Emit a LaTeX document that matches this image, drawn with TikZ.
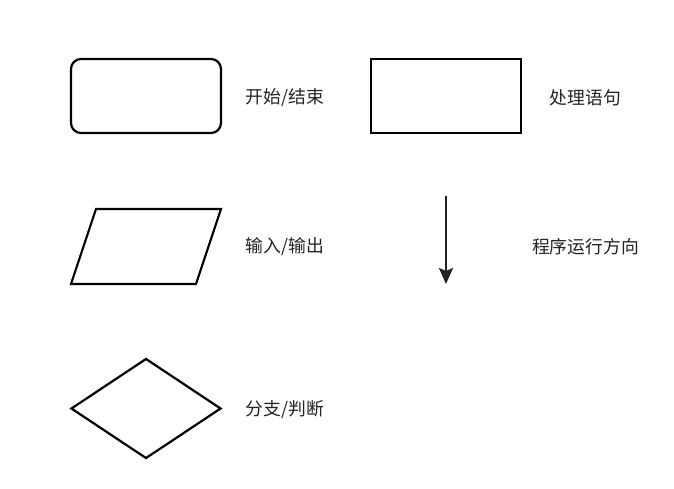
\documentclass[tikz,border=0pt]{standalone}
\usepackage{fontspec}
\newfontfamily\cjk{Noto Sans CJK SC}
\definecolor{fcblack}{RGB}{0,0,0}
\definecolor{fctext}{RGB}{34,34,34}
\usetikzlibrary{arrows.meta,positioning,shapes.geometric}

\begin{document}
\begin{tikzpicture}[
  x=1pt,y=-1pt,
  every node/.style={font=\cjk\fontsize{17.8}{21}\selectfont,text=fctext},
  fcshape/.style={draw=fcblack,line width=2.2pt,inner sep=0pt},
  fclabel/.style={inner sep=0pt},
  flowarr/.style={-{Stealth[length=16pt,width=14pt,inset=3pt]},line width=2.2pt,fctext},
]
  \useasboundingbox (0,0) rectangle (674,488);

  % Flow chart symbols
  \node[fcshape,rounded corners=10pt,minimum width=150pt,minimum height=74pt] (term) at (146,96) {};
  \node[fcshape,minimum width=150pt,minimum height=74pt] (proc) at (446,96) {};
  \draw[fcshape,line join=miter] (96,209) -- (221,209) -- (196,284) -- (71,284) -- cycle;
  \coordinate (io) at (146,246.5);
  \node[fcshape,diamond,minimum width=150pt,minimum height=100pt] (dec) at (146,408.5) {};

  % Direction arrow
  \coordinate (dirtop) at (446,196);
  \coordinate (dirbot) at (446,284);
  \draw[flowarr] (dirtop) -- (dirbot);

  % Labels
  \node[fclabel] (termlbl) at (285,98) {开始/结束};
  \node[fclabel] (proclbl) at (585.5,98) {处理语句};
  \node[fclabel] (iolbl) at (285,247) {输入/输出};
  \node[fclabel] (dirlbl) at (585.5,247) {程序运行方向};
  \node[fclabel] (declbl) at (285,410) {分支/判断};
\end{tikzpicture}
\end{document}
